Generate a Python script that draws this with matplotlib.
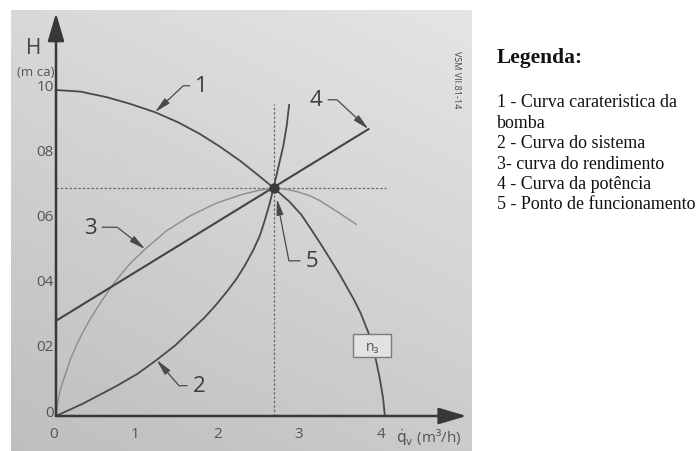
import numpy as np
import matplotlib
matplotlib.use("Agg")
import matplotlib.pyplot as plt
from matplotlib.patches import Rectangle

# ---------------- data ----------------
pump_q = [0, 0.30, 0.62, 0.90, 1.21, 1.50, 1.76, 2.00, 2.25, 2.45, 2.66, 2.86, 3.00, 3.11, 3.23, 3.35, 3.45, 3.55, 3.64, 3.72, 3.82, 3.90, 3.96, 4.00, 4.02]
pump_H = [10.0, 9.95, 9.78, 9.58, 9.32, 9.00, 8.65, 8.27, 7.83, 7.43, 7.00, 6.56, 6.17, 5.76, 5.30, 4.82, 4.42, 3.98, 3.58, 3.18, 2.55, 1.85, 1.13, 0.52, 0.0]

sys_q = [0, 0.33, 0.74, 1.00, 1.23, 1.45, 1.64, 1.82, 1.96, 2.10, 2.21, 2.31, 2.41, 2.49, 2.55, 2.61, 2.66, 2.72, 2.78, 2.82, 2.85]
sys_H = [0, 0.38, 0.92, 1.30, 1.72, 2.15, 2.60, 3.03, 3.42, 3.85, 4.22, 4.62, 5.08, 5.52, 5.98, 6.50, 7.00, 7.65, 8.30, 8.90, 9.54]

eff_q = [0, 0.01, 0.03, 0.06, 0.11, 0.17, 0.25, 0.33, 0.42, 0.55, 0.68, 0.80, 0.90, 1.09, 1.35, 1.64, 1.96, 2.29, 2.50, 2.66, 2.80, 2.95, 3.10, 3.23, 3.45, 3.67]
eff_H = [0, 0.22, 0.53, 0.88, 1.24, 1.70, 2.17, 2.58, 2.98, 3.50, 3.98, 4.36, 4.66, 5.12, 5.68, 6.14, 6.53, 6.81, 6.93, 7.00, 6.96, 6.88, 6.76, 6.60, 6.25, 5.88]

pow_q = [0, 3.82]
pow_H = [2.92, 8.80]

op_q, op_H = 2.67, 7.0
vline_top = 9.57
hline_right = 4.04

xticks = [0, 1, 2, 3, 4]
xticklabels = ["0", "1", "2", "3", "4"]
yticks = [0, 2, 4, 6, 8, 10]
yticklabels = ["0", "02", "04", "06", "08", "10"]

legend_title = "Legenda:"
legend_items = ["1 - Curva carateristica da", "bomba", "2 - Curva do sistema",
                "3- curva do rendimento", "4 - Curva da potência", "5 - Ponto de funcionamento"]

# curve labels: (text, target q, target H, text q, text H, angle of leader)
curve_labels = [
    ("1", 1.21, 9.32, 1.78, 10.13, 43),
    ("2", 1.23, 1.72, 1.75, 0.93, -49),
    ("3", 1.09, 5.12, 0.42, 5.79, 142),
    ("4", 3.82, 8.80, 3.18, 9.70, 137),
    ("5", 2.70, 6.66, 3.13, 4.76, -79),
]

# ---------------- figure ----------------
W, Hh = 700, 452
fig = plt.figure(figsize=(W / 100, Hh / 100), dpi=100)
fig.patch.set_facecolor("white")

bg = fig.add_axes([0, 0, 1, 1])
bg.set_xlim(0, W)
bg.set_ylim(Hh, 0)
bg.axis("off")
yy, xx = np.mgrid[0:1:200j, 0:1:200j]
grad = 0.895 - 0.10 * yy - 0.05 * (1 - xx)
bg.imshow(grad, cmap="gray", vmin=0, vmax=1, extent=(11, 472, 452, 11),
          aspect="auto", interpolation="bilinear")

# main axes: origin at pixel (56, 417), 81.8 px per q unit, 32.6 px per H unit
ax = fig.add_axes([56 / W, (Hh - 417) / Hh, 5.1 * 81.8 / W, 12.5 * 32.6 / Hh])
ax.set_xlim(0, 5.1)
ax.set_ylim(0, 12.5)
ax.patch.set_alpha(0)
for s in ax.spines.values():
    s.set_visible(False)
ax.set_xticks([])
ax.set_yticks([])

dark = "#4a4a4a"
num_font = ["Open Sans", "DejaVu Sans"]

# axes with arrows
arrow_kw = dict(arrowstyle="-|>,head_length=1.7,head_width=0.5", lw=1.8,
                color="#383838", shrinkA=0, shrinkB=0)
ax.annotate("", xy=(0, 12.36), xytext=(0, 0), arrowprops=arrow_kw, annotation_clip=False)
ax.annotate("", xy=(5.02, 0), xytext=(0, 0), arrowprops=arrow_kw, annotation_clip=False)

# dashed guide lines
ax.plot([op_q, op_q], [0, vline_top], ls=(0, (2, 1.5)), lw=0.9, color="#6a6a6a", clip_on=False)
ax.plot([0, hline_right], [op_H, op_H], ls=(0, (2, 1.5)), lw=0.9, color="#6a6a6a", clip_on=False)

# curves
ax.plot(eff_q, eff_H, color="#8c8c8c", lw=1.0, clip_on=False)
ax.plot(pump_q, pump_H, color=dark, lw=1.3, clip_on=False)
ax.plot(sys_q, sys_H, color=dark, lw=1.3, clip_on=False)
ax.plot(pow_q, pow_H, color="#444444", lw=1.5, clip_on=False)
ax.plot([op_q], [op_H], "o", ms=6.5, color="#3a3a3a", zorder=5)

# curve number labels with leaders
for txt, tq, tH, xq, xH, ang in curve_labels:
    ax.annotate(txt, xy=(tq, tH), xytext=(xq, xH), fontsize=16, color="#3c3c3c",
                family=num_font, ha="center", va="center",
                arrowprops=dict(arrowstyle="-|>,head_length=0.6,head_width=0.13",
                                connectionstyle=f"angle,angleA=0,angleB={ang},rad=0",
                                color="#4a4a4a", lw=0.9, shrinkA=2, shrinkB=0))

# n3 box
ax.add_patch(Rectangle((3.63, 1.80), 0.47, 0.72, facecolor="#e2e2e0", edgecolor="#7a7a7a",
                       lw=1.0, zorder=6))
ax.text(3.865, 2.14, "n₃", ha="center", va="center", fontsize=10, color="#555555",
        family=num_font, zorder=7)

# tick labels
for q, lab in zip(xticks, xticklabels):
    ax.text(q - 0.03, -0.55, lab, ha="center", va="center", fontsize=11,
            color="#555555", family=num_font)
for h, lab in zip(yticks, yticklabels):
    ax.text(-0.03, h + 0.12, lab, ha="right", va="center", fontsize=11,
            color="#555555", family=num_font)

# axis titles
fig.text(34 / W, 1 - 49 / Hh, "H", fontsize=15, color="#444444", family=num_font,
         ha="center", va="center")
fig.text(36 / W, 1 - 72 / Hh, "(m ca)", fontsize=9.5, color="#555555", family=num_font,
         ha="center", va="center")
fig.text(429 / W, 1 - 438 / Hh, r"$\dot{\mathrm{q}}_{\mathrm{v}}$ (m³/h)", fontsize=11,
         color="#555555", family=num_font, ha="center", va="center")
fig.text(457 / W, 1 - 80 / Hh, "VSM VII.81-14", fontsize=6.5, color="#444444",
         family=num_font, rotation=270, ha="center", va="center")

# legend text on the right
fig.text(497 / W, 1 - 58 / Hh, legend_title, fontsize=15.5, fontweight="bold",
         family="Liberation Serif", color="#111111", va="center", ha="left")
for i, item in enumerate(legend_items):
    fig.text(497 / W, 1 - (103 + 20.4 * i) / Hh, item, fontsize=12.9,
             family="Liberation Serif", color="#111111", va="center", ha="left")

fig.savefig("out.png", dpi=100)
